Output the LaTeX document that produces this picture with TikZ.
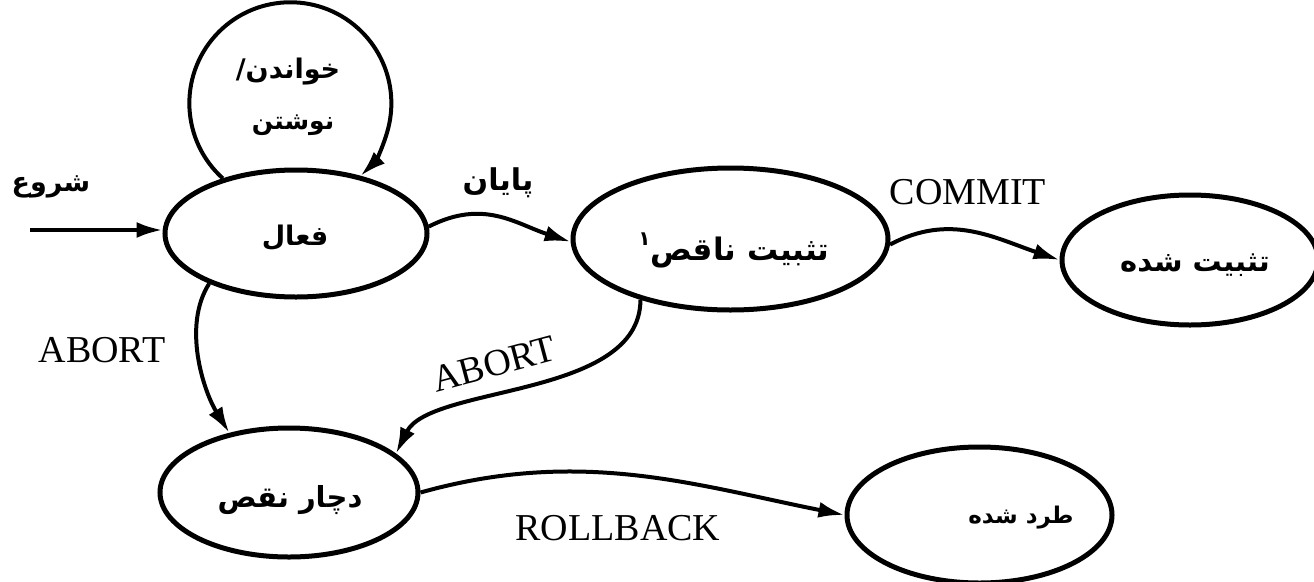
\documentclass[tikz,border=0pt]{standalone}
\usepackage{fontspec}
\setmainfont{Liberation Serif}
\newfontfamily\fa[Script=Arabic]{DejaVu Sans}
\TeXXeTstate=1
\usetikzlibrary{shapes.geometric,arrows.meta}
\begin{document}
\begin{tikzpicture}[x=1pt,y=1pt,
  st/.style={ellipse, draw, line width=5pt, inner sep=0pt},
  arr/.style={line width=4pt, -{Latex[length=26pt,width=16pt]}},
  fatxt/.style={font=\fa\bfseries\fontsize{#1}{#1}\selectfont, inner sep=0pt},
  fatxt/.default=28,
  entxt/.style={font=\fontsize{38}{40}\selectfont, inner sep=0pt}]
\useasboundingbox (0,0) rectangle (1314,-581);
% states
\node[st, minimum width=262pt, minimum height=127pt] (act) at (296,-233.5) {};
\node[st, minimum width=315pt, minimum height=142pt] (mid) at (730.5,-239) {};
\node[st, minimum width=256pt, minimum height=130pt] (com) at (1190,-260) {};
\node[st, minimum width=258pt, minimum height=129pt] (fail) at (289,-492.5) {};
\node[st, minimum width=265pt, minimum height=136pt] (abt) at (979.5,-515) {};
% state texts
\node[fatxt=27] (tact) at (295,-238) {\beginR فعال\endR};
\node[fatxt=31] (tmid) at (734,-250) {\beginR تثبیت ناقص\raisebox{15pt}{\fontsize{20}{20}\selectfont ۱}\endR};
\node[fatxt=29] (tcom) at (1195,-265) {\beginR تثبیت شده\endR};
\node[fatxt=29] (tfail) at (290,-500) {\beginR دچار نقص\endR};
\node[fatxt=23] (tabt) at (1021,-518) {\beginR طرد شده\endR};
% start arrow
\coordinate (s) at (30,-230);
\draw[arr] (s) -- (s -| act.west);
\node[fatxt=27] (lstart) at (51,-187) {\beginR شروع\endR};
% self loop
\draw[arr] (act.143) arc[start angle=228, end angle=-46, radius=101];
\node[fatxt=27] (lrw1) at (288,-72) {\beginR خواندن/\endR};
\node[fatxt=25] (lrw2) at (293,-125) {\beginR نوشتن\endR};
% transitions
\draw[arr] (act.3) .. controls +(55,28) and +(-55,18) .. (mid.181);
\node[fatxt=30] (lend) at (498,-183) {\beginR پایان\endR};
\draw[arr] (mid.358) .. controls +(60,32) and +(-65,22) .. (com.west);
\node[entxt] (lcommit) at (968,-192) {COMMIT};
\draw[arr] (act.210) .. controls +(-27,-42) and +(-26,42) .. (fail.135);
\node[entxt] (labort1) at (102,-350) {ABORT};
\draw[arr] (mid.214) .. controls +(0,-99) and +(34,69) .. (fail.20);
\node[entxt, rotate=15] (labort2) at (494,-364) {ABORT};
\draw[arr] (fail.east) .. controls +(160,45) and +(-150,30) .. (abt.west);
\node[entxt] (lrb) at (618,-528) {ROLLBACK};
\end{tikzpicture}
\end{document}
